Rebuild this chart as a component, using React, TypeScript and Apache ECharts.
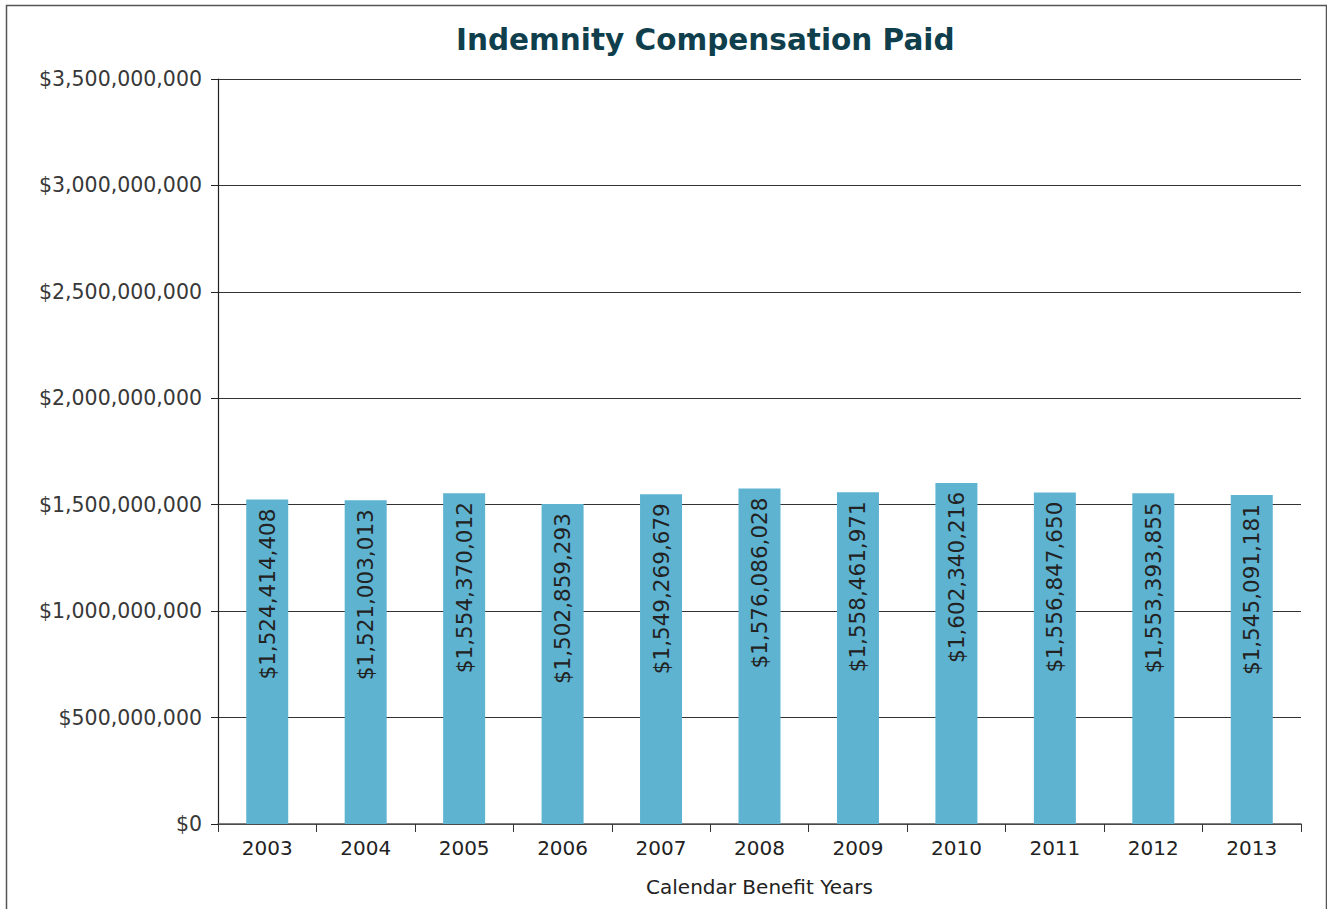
import React, { useEffect, useRef } from "react";
import * as echarts from "echarts";

const years = ["2003", "2004", "2005", "2006", "2007", "2008", "2009", "2010", "2011", "2012", "2013"];
const paid = [
  1524414408, 1521003013, 1554370012, 1502859293, 1549269679, 1576086028,
  1558461971, 1602340216, 1556847650, 1553393855, 1545091181,
];
const yMax = 3500000000;
const yStep = 500000000;

const money = (v: number) => "$" + Math.round(v).toLocaleString("en-US");

export default function App() {
  const ref = useRef<HTMLDivElement>(null);
  useEffect(() => {
    if (!ref.current) return;
    const chart = echarts.init(ref.current, undefined, { renderer: "svg" });
    chart.setOption({
      animation: false,
      backgroundColor: "#ffffff",
      title: {
        text: "Indemnity Compensation Paid",
        left: 451,
        top: 20,
        textStyle: {
          fontFamily: "DejaVu Sans",
          fontWeight: "bold",
          fontSize: 29.5,
          color: "#0f3f4c",
        },
      },
      graphic: [
        {
          type: "rect",
          shape: { x: 6.5, y: 5.5, width: 1320, height: 950 },
          style: { fill: "none", stroke: "#555555", lineWidth: 1.5 },
          silent: true,
        },
      ],
      grid: { left: 218, right: 26, top: 79, bottom: 85, containLabel: false },
      xAxis: {
        type: "category",
        data: years,
        boundaryGap: true,
        name: "Calendar Benefit Years",
        nameLocation: "middle",
        nameGap: 53,
        nameTextStyle: { fontFamily: "DejaVu Sans", fontSize: 20, color: "#222222" },
        axisLine: { lineStyle: { color: "#555555", width: 1.5 } },
        axisTick: { show: true, length: 8, alignWithLabel: false, lineStyle: { color: "#333333" } },
        axisLabel: { fontFamily: "DejaVu Sans", fontSize: 20, color: "#222222", margin: 14 },
      },
      yAxis: {
        type: "value",
        min: 0,
        max: yMax,
        interval: yStep,
        axisLine: { show: true, lineStyle: { color: "#222222", width: 1.2 } },
        axisTick: { show: true, length: 7, lineStyle: { color: "#222222" } },
        splitLine: { show: true, lineStyle: { color: "#333333", width: 1 } },
        axisLabel: {
          fontFamily: "DejaVu Sans",
          fontSize: 20.5,
          color: "#383838",
          margin: 16,
          formatter: (v: number) => money(v),
        },
      },
      series: [
        {
          type: "bar",
          data: paid,
          barWidth: 42,
          itemStyle: { color: "#5eb3d1" },
          label: {
            show: true,
            position: "insideTop",
            rotate: 90,
            align: "right",
            verticalAlign: "middle",
            distance: 9,
            fontFamily: "DejaVu Sans",
            fontSize: 21.5,
            color: "#222222",
            formatter: (p: any) => money(p.value),
          },
        },
      ],
    });
    return () => chart.dispose();
  }, []);
  return (
    <div
      ref={ref}
      style={{ position: "fixed", left: 0, top: 0, width: 1327, height: 909, background: "#fff" }}
    />
  );
}
